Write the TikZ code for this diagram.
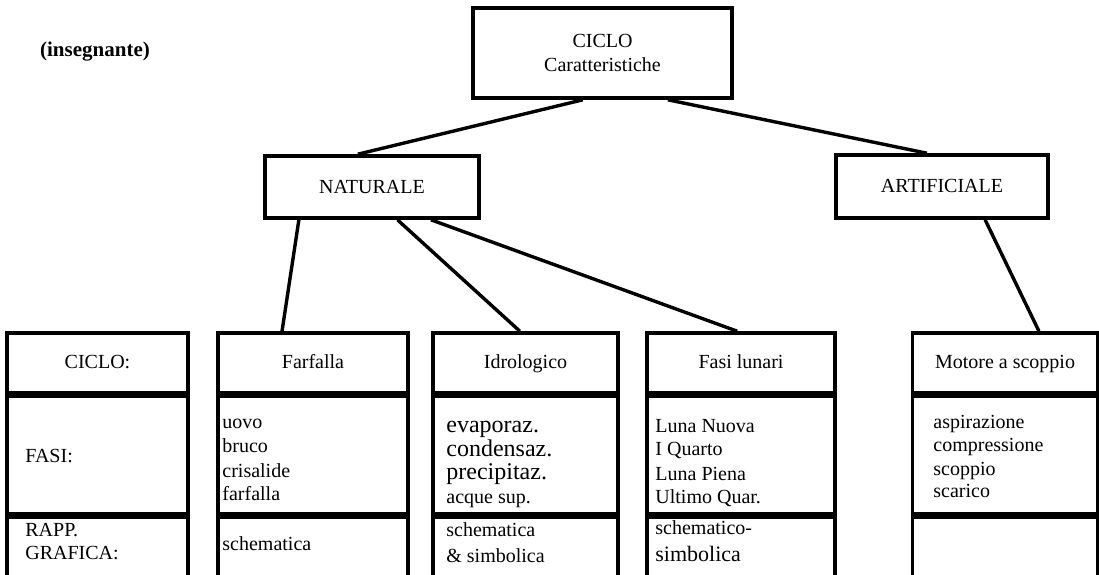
\documentclass[tikz,border=0pt]{standalone}
\usepackage{fontspec}
\setmainfont{Liberation Serif}
\usetikzlibrary{positioning,calc}

\tikzset{
  box/.style={draw, line width=1.8pt, inner sep=0pt, align=center},
  head/.style={box, minimum height=30pt, text height=6.5pt, text depth=1.5pt},
  fasi/.style={box, minimum height=58.5pt},
  rapp/.style={box, minimum height=31.5pt},
  wire/.style={line width=1.7pt},
  item/.style={anchor=base west, inner sep=0pt},
}

\begin{document}
\begin{tikzpicture}[x=0.5pt,y=-0.5pt]
\useasboundingbox (0,0) rectangle (1099,574);

% top of the tree
\node [box, minimum width=129.5pt, minimum height=45pt] (ciclo) at (602.5,53) {CICLO\\Caratteristiche};
\node [box, minimum width=107pt, minimum height=31pt, text height=6.5pt, text depth=0.5pt] (naturale) at (372,187) {NATURALE};
\node [box, minimum width=106pt, minimum height=31.5pt, text height=6.5pt, text depth=0.5pt] (artificiale) at (942,186.5) {ARTIFICIALE};
\node [font=\bfseries\fontsize{10.5}{12}\selectfont] (insegnante) at (95,52) {(insegnante)};

% legend column
\node [head, minimum width=90.5pt] (tabella) at (97.5,363) {CICLO:};
\node [fasi, minimum width=90.5pt, below=0pt of tabella] (tabellaFasi) {};
\node [rapp, minimum width=90.5pt, below=0pt of tabellaFasi] (tabellaRapp) {};
\node [item] (fasiLabel) at (25,462) {FASI:};
\node [item] (rappLabel) at (25,536) {RAPP.};
\node [item] (graficaLabel) at (25,559) {GRAFICA:};

% Farfalla
\node [head, minimum width=95pt] (farfalla) at (313,363) {Farfalla};
\node [fasi, minimum width=95pt, below=0pt of farfalla] (farfallaFasi) {};
\node [rapp, minimum width=95pt, below=0pt of farfallaFasi] (farfallaRapp) {};
\foreach \t/\y [count=\i] in {uovo/428,bruco/452,crisalide/477,farfalla/500}
  \node [item] (farfalla\i) at (222,\y) {\t};
\node [item] (farfallaR) at (222,550) {schematica};

% Idrologico
\node [head, minimum width=92.5pt] (idro) at (525.5,363) {Idrologico};
\node [fasi, minimum width=92.5pt, below=0pt of idro] (idroFasi) {};
\node [rapp, minimum width=92.5pt, below=0pt of idroFasi] (idroRapp) {};
\foreach \t/\y [count=\i] in {evaporaz./432,condensaz./456,precipitaz./479}
  \node [item, font=\fontsize{12}{14}\selectfont] (idro\i) at (446,\y) {\t};
\node [item] (idro4) at (446,503) {acque sup.};
\node [item] (idroR1) at (446,536) {schematica};
\node [item] (idroR2) at (446,562) {\& simbolica};

% Fasi lunari
\node [head, minimum width=94pt] (lunari) at (741,363) {Fasi lunari};
\node [fasi, minimum width=94pt, below=0pt of lunari] (lunariFasi) {};
\node [rapp, minimum width=94pt, below=0pt of lunariFasi] (lunariRapp) {};
\foreach \t/\y [count=\i] in {Luna Nuova/432,I Quarto/455,Luna Piena/480,Ultimo Quar./503}
  \node [item] (lunari\i) at (655,\y) {\t};
\node [item] (lunariR1) at (655,534) {schematico-};
\node [item, font=\fontsize{11}{13}\selectfont] (lunariR2) at (655,561) {simbolica};

% Motore a scoppio
\node [head, minimum width=92.5pt] (motore) at (1005,363) {Motore a scoppio};
\node [fasi, minimum width=92.5pt, below=0pt of motore] (motoreFasi) {};
\node [rapp, minimum width=92.5pt, below=0pt of motoreFasi] (motoreRapp) {};
\foreach \t/\y [count=\i] in {aspirazione/428,compressione/451,scoppio/475,scarico/497}
  \node [item] (motore\i) at (933,\y) {\t};

% connectors
\draw [wire] ($(ciclo.south west)!0.425!(ciclo.south east)$) -- ($(naturale.north west)!0.435!(naturale.north east)$);
\draw [wire] ($(ciclo.south west)!0.749!(ciclo.south east)$) -- ($(artificiale.north west)!0.43!(artificiale.north east)$);
\draw [wire] ($(naturale.south west)!0.164!(naturale.south east)$) -- ($(farfalla.north west)!0.34!(farfalla.north east)$);
\draw [wire] ($(naturale.south west)!0.617!(naturale.south east)$) -- ($(idro.north west)!0.47!(idro.north east)$);
\draw [wire] ($(naturale.south west)!0.771!(naturale.south east)$) -- ($(lunari.north west)!0.48!(lunari.north east)$);
\draw [wire] ($(artificiale.south west)!0.70!(artificiale.south east)$) -- ($(motore.north west)!0.68!(motore.north east)$);
\end{tikzpicture}
\end{document}
